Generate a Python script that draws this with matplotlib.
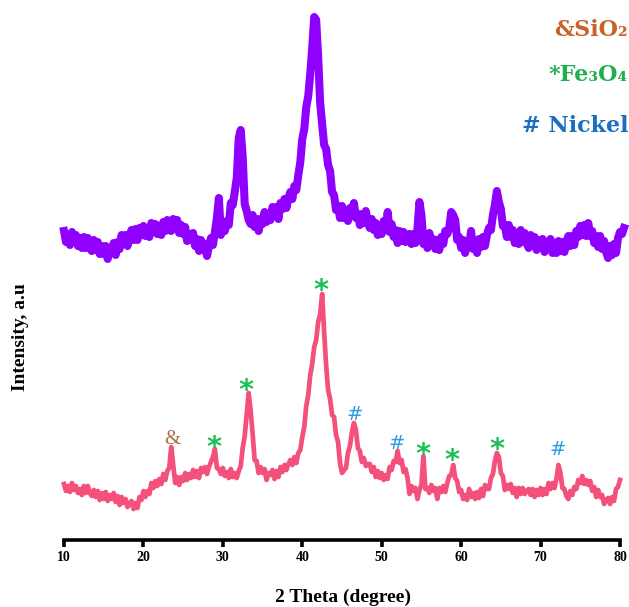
import matplotlib
matplotlib.use("Agg")
import matplotlib.pyplot as plt
import numpy as np

# ---- data (2 theta in degrees, intensity in arbitrary units) ----
# upper pattern, sampled every 0.25 degree from 10.0 to 80.5
top_x = np.arange(10.0, 80.5 + 0.01, 0.25)
top_y = [
    309, 298, 305, 295, 308, 298, 305, 294, 302, 292, 303, 292, 302, 293, 289, 300, 290, 298, 286, 294,
    286, 294, 281, 291, 287, 297, 285, 298, 291, 305, 296, 305, 294, 304, 310, 300, 311, 300, 312, 305,
    314, 304, 312, 303, 317, 308, 316, 306, 314, 305, 318, 309, 320, 312, 309, 321, 313, 320, 307, 315,
    306, 313, 299, 306, 300, 307, 294, 301, 289, 300, 290, 296, 284, 294, 302, 295, 308, 322, 342, 305,
    318, 309, 319, 315, 337, 335, 348, 362, 402, 410, 383, 336, 329, 320, 316, 325, 313, 321, 309, 321,
    316, 328, 318, 326, 320, 333, 325, 333, 321, 337, 331, 341, 332, 342, 348, 341, 354, 350, 365, 378,
    401, 411, 433, 444, 466, 492, 523, 520, 483, 437, 416, 395, 391, 375, 369, 348, 345, 330, 334, 322,
    334, 322, 329, 319, 332, 325, 337, 322, 326, 315, 326, 317, 329, 318, 312, 321, 310, 317, 305, 314,
    306, 319, 310, 328, 308, 316, 303, 310, 297, 309, 299, 308, 298, 304, 306, 296, 306, 297, 311, 338,
    325, 296, 301, 292, 307, 295, 301, 291, 300, 290, 303, 296, 309, 306, 312, 328, 325, 320, 300, 303,
    292, 300, 287, 297, 294, 309, 291, 299, 287, 301, 293, 303, 294, 305, 312, 310, 325, 335, 349, 338,
    331, 314, 315, 303, 315, 303, 310, 297, 304, 296, 310, 298, 307, 297, 292, 305, 297, 303, 290, 300,
    292, 301, 288, 298, 294, 301, 287, 297, 287, 299, 289, 298, 288, 298, 304, 294, 304, 295, 309, 303,
    314, 305, 315, 304, 317, 304, 309, 297, 304, 293, 304, 291, 299, 288, 282, 294, 285, 296, 287, 302,
    308, 306, 312,
]

# lower pattern, sampled every 0.25 degree from 10.0 to 80.0
bot_x = np.arange(10.0, 80.0 + 0.01, 0.25)
bot_y = [
    56, 49, 54, 48, 57, 50, 54, 47, 51, 45, 54, 47, 54, 47, 44, 50, 43, 49, 40, 47,
    41, 48, 39, 45, 41, 47, 38, 44, 35, 43, 37, 41, 33, 37, 39, 31, 37, 32, 43, 40,
    49, 43, 49, 46, 57, 52, 59, 54, 61, 56, 66, 60, 69, 72, 93, 75, 57, 63, 55, 63,
    59, 67, 60, 66, 62, 70, 63, 69, 62, 72, 68, 73, 66, 73, 78, 83, 91, 72, 71, 66,
    72, 64, 68, 62, 71, 63, 67, 62, 69, 74, 92, 104, 126, 147, 129, 106, 80, 79, 67, 73,
    67, 71, 60, 67, 65, 70, 61, 69, 63, 73, 68, 75, 70, 76, 80, 75, 83, 77, 87, 90,
    103, 113, 134, 145, 165, 176, 193, 200, 218, 226, 246, 208, 175, 150, 141, 125, 123, 105, 98, 77,
    67, 70, 72, 87, 94, 108, 117, 110, 92, 89, 78, 82, 74, 76, 76, 68, 73, 63, 69, 62,
    67, 60, 65, 61, 73, 70, 79, 78, 89, 77, 80, 68, 71, 62, 46, 54, 49, 52, 41, 50,
    55, 84, 51, 52, 47, 55, 49, 52, 41, 52, 48, 54, 48, 57, 64, 65, 75, 62, 59, 48,
    50, 41, 45, 40, 51, 43, 47, 41, 48, 42, 51, 44, 55, 51, 51, 62, 66, 79, 87, 83,
    67, 64, 50, 55, 51, 56, 47, 52, 43, 52, 46, 52, 46, 49, 51, 45, 51, 43, 50, 45,
    52, 45, 51, 46, 57, 51, 57, 52, 61, 75, 67, 52, 51, 44, 41, 49, 45, 53, 51, 60,
    57, 64, 56, 60, 55, 59, 49, 53, 43, 50, 43, 45, 36, 40, 42, 36, 43, 39, 51, 53,
    60,
]

# peak markers: (2theta, height of symbol centre, symbol)
mark_x = [23.6, 28.9, 32.9, 42.4, 46.6, 51.9, 55.2, 58.9, 64.5, 72.2]
mark_y = [103, 100, 157, 257, 127, 98, 93, 87, 98, 92]
mark_s = ["&", "*", "*", "*", "#", "#", "*", "*", "*", "#"]

xticks = [10, 20, 30, 40, 50, 60, 70, 80]

legend_labels = ["&SiO\u2082", "*Fe\u2083O\u2084", "# Nickel"]
legend_colors = ["#C8622A", "#1FAF50", "#1A6FBF"]

# ---- figure ----
fig = plt.figure(figsize=(6.29, 6.07), dpi=100)
ax = fig.add_axes([64 / 629, 67 / 607, 556 / 629, 540 / 607])

ax.plot(top_x, top_y, color="#8F00FF", lw=5.8, clip_on=False)
ax.plot(bot_x, bot_y, color="#F4507C", lw=3.4, clip_on=False)

sym_style = {
    "&": dict(color="#A8714C", fontsize=15, family=["Liberation Serif", "DejaVu Sans"]),
    "*": dict(color="#1DBF55", fontsize=21, fontweight="bold", family=["DejaVu Sans"]),
    "#": dict(color="#2D9CE0", fontsize=14, family=["DejaVu Sans"]),
}
sym_shift = {"&": -7, "*": -16, "#": -7}
for x, y, s in zip(mark_x, mark_y, mark_s):
    ax.text(x, y + sym_shift[s], s, ha="center", va="baseline", **sym_style[s])

ax.set_xlim(10, 80)
ax.set_ylim(0, 540)
ax.set_xticks(xticks)
ax.set_yticks([])
for sp in ["left", "right", "top"]:
    ax.spines[sp].set_visible(False)
ax.spines["bottom"].set_linewidth(2.6)
ax.tick_params(axis="x", direction="out", length=5, width=2.6, pad=3)
for lab in ax.get_xticklabels():
    lab.set_fontfamily("Liberation Serif")
    lab.set_fontweight("bold")
    lab.set_fontsize(10)

fig.text(343 / 629, 1 - 597 / 607, "2 Theta (degree)", ha="center", va="center",
         fontsize=14, fontweight="bold", family=["Liberation Serif", "DejaVu Serif"])
fig.text(21 / 629, 1 - 337 / 607, "Intensity, a.u", ha="center", va="center",
         rotation=90, fontsize=14, fontweight="bold",
         family=["Liberation Serif", "DejaVu Serif"])

legend_y = [30, 75, 126]
for lab, col, yy in zip(legend_labels, legend_colors, legend_y):
    fig.text(628 / 629, 1 - yy / 607, lab, ha="right", va="center", color=col,
             fontsize=16, fontweight="bold",
             family=["DejaVu Serif", "Liberation Serif"])

fig.savefig("out.png", dpi=100)
